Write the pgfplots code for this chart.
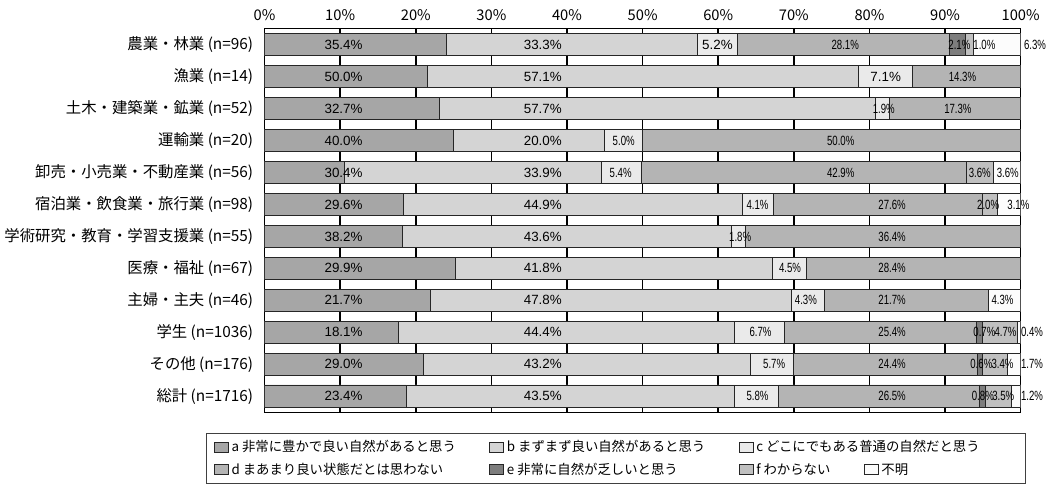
\documentclass[border=0pt]{standalone}
\usepackage{fontspec}
\setmainfont{Noto Sans CJK JP}
\newfontfamily\labfont{Liberation Sans}
\usepackage{graphicx}
\usepackage{pgfplots}
\usepackage{pgfplotstable}
\pgfplotsset{compat=1.18}

\definecolor{ca}{RGB}{166,166,166}
\definecolor{cb}{RGB}{212,212,212}
\definecolor{cc}{RGB}{234,234,234}
\definecolor{cd}{RGB}{180,180,180}
\definecolor{ce}{RGB}{125,125,125}
\definecolor{cf}{RGB}{192,192,192}
\definecolor{cg}{RGB}{252,252,252}

% drawn widths of the segments (a..g), rows from the top
\pgfplotstableread{
y a b c d e f g
1 24.0 33.3 5.2 28.1 2.1 1.0 6.3
2 21.5 57.1 7.1 14.3 0 0 0
3 23.1 57.7 1.9 17.3 0 0 0
4 25.0 20.0 5.0 50.0 0 0 0
5 10.6 33.9 5.4 42.9 0 3.6 3.6
6 18.3 44.9 4.1 27.6 0 2.0 3.1
7 18.2 43.6 1.8 36.4 0 0 0
8 25.3 41.8 4.5 28.4 0 0 0
9 21.9 47.8 4.3 21.7 0 0 4.3
10 17.7 44.4 6.7 25.4 0.7 4.7 0.4
11 21.0 43.2 5.7 24.4 0.6 3.4 1.7
12 18.7 43.5 5.8 26.5 0.8 3.5 1.2
}\shares

% printed labels: position, row, text
\pgfplotstableread{
x y t
10.45 1 35.4
10.45 2 50.0
10.45 3 32.7
10.45 4 40.0
10.45 5 30.4
10.45 6 29.6
10.45 7 38.2
10.45 8 29.9
10.45 9 21.7
10.45 10 18.1
10.45 11 29.0
10.45 12 23.4
36.8 1 33.3
36.8 2 57.1
36.8 3 57.7
36.8 4 20.0
36.8 5 33.9
36.8 6 44.9
36.8 7 43.6
36.8 8 41.8
36.8 9 47.8
36.8 10 44.4
36.8 11 43.2
36.8 12 43.5
59.9 1 5.2
82.15 2 7.1
}\biglabels

\pgfplotstableread{
x y t
76.8 1 28.1
91.9 1 2.1
95.2 1 1.0
101.9 1 6.3
92.3 2 14.3
81.9 3 1.9
91.7 3 17.3
47.5 4 5.0
76.2 4 50.0
47.1 5 5.4
76.2 5 42.9
94.6 5 3.6
98.3 5 3.6
65.2 6 4.1
83.0 6 27.6
95.7 6 2.0
99.7 6 3.1
62.9 7 1.8
83.0 7 36.4
69.5 8 4.5
83.0 8 28.4
71.6 9 4.3
83.0 9 21.7
97.6 9 4.3
65.6 10 6.7
83.0 10 25.4
95.2 10 0.7
98.0 10 4.7
101.5 10 0.4
67.4 11 5.7
83.0 11 24.4
94.8 11 0.6
97.6 11 3.4
101.5 11 1.7
65.2 12 5.8
83.0 12 26.5
95.0 12 0.8
97.7 12 3.5
101.5 12 1.2
}\smalllabels

\pgfplotsset{chartframe/.style={scale only axis, width=565.5pt, height=287pt,
  xmin=0, xmax=100, ymin=0.5, ymax=12.5, y dir=reverse}}

\begin{document}
\begin{tikzpicture}
\begin{axis}[chartframe,
  xbar stacked, bar width=16.9pt,
  axis line style={black, line width=1pt},
  xtick={0,10,...,100},
  xticklabels={0\%,10\%,20\%,30\%,40\%,50\%,60\%,70\%,80\%,90\%,100\%},
  xticklabel pos=upper,
  ytick={1,...,12},
  yticklabels={農業・林業 (n=96),漁業 (n=14),土木・建築業・鉱業 (n=52),運輸業 (n=20),
    卸売・小売業・不動産業 (n=56),宿泊業・飲食業・旅行業 (n=98),学術研究・教育・学習支援業 (n=55),
    医療・福祉 (n=67),主婦・主夫 (n=46),学生 (n=1036),その他 (n=176),総計 (n=1716)},
  major tick length=0pt,
  xmajorgrids, major grid style={black, line width=1.2pt},
  xticklabel style={font=\fontsize{11}{12}\selectfont, inner ysep=7.4pt, yshift=-2pt},
  yticklabel style={font=\fontsize{11.5}{13}\selectfont, xshift=-5pt},
  every axis plot/.append style={draw=black!85, line width=0.6pt},
  legend image code/.code={\draw[#1] (0pt,-3.75pt) rectangle (10.5pt,3.75pt);},
  legend columns=4,
  legend style={at={(-0.078,-0.055)}, anchor=north west, draw=black!75,
    line width=0.6pt, font=\fontsize{10}{12}\selectfont,
    inner xsep=6pt, inner ysep=3pt, row sep=3pt,
    /tikz/every even column/.append style={column sep=23pt}},
  legend cell align=left,
]
\addplot[fill=ca] table[x=a, y=y] {\shares};
\addlegendentry{a 非常に豊かで良い自然があると思う}
\addplot[fill=cb] table[x=b, y=y] {\shares};
\addlegendentry{b まずまず良い自然があると思う}
\addplot[fill=cc] table[x=c, y=y] {\shares};
\addlegendentry{\makebox[0pt][l]{c どこにでもある普通の自然だと思う}}
\addlegendimage{empty legend}
\addlegendentry{}
\addplot[fill=cd] table[x=d, y=y] {\shares};
\addlegendentry{d まあまり良い状態だとは思わない}
\addplot[fill=ce] table[x=e, y=y] {\shares};
\addlegendentry{e 非常に自然が乏しいと思う}
\addplot[fill=cf] table[x=f, y=y] {\shares};
\addlegendentry{f わからない}
\addplot[fill=cg] table[x=g, y=y] {\shares};
\addlegendentry{\makebox[100pt][l]{不明}}
\end{axis}

\begin{axis}[chartframe, hide axis, clip=false]
\addplot[draw=none, mark=none, point meta=explicit symbolic,
  nodes near coords={\pgfplotspointmeta\%},
  nodes near coords style={anchor=center, inner sep=0pt, font=\labfont\fontsize{10}{12}\selectfont}]
  table[x=x, y=y, meta=t] {\biglabels};
\addplot[draw=none, mark=none, point meta=explicit symbolic,
  nodes near coords={\scalebox{0.72}[1]{\pgfplotspointmeta\%}},
  nodes near coords style={anchor=center, inner sep=0pt, font=\labfont\fontsize{10}{12}\selectfont}]
  table[x=x, y=y, meta=t] {\smalllabels};
\end{axis}
\end{tikzpicture}
\end{document}
